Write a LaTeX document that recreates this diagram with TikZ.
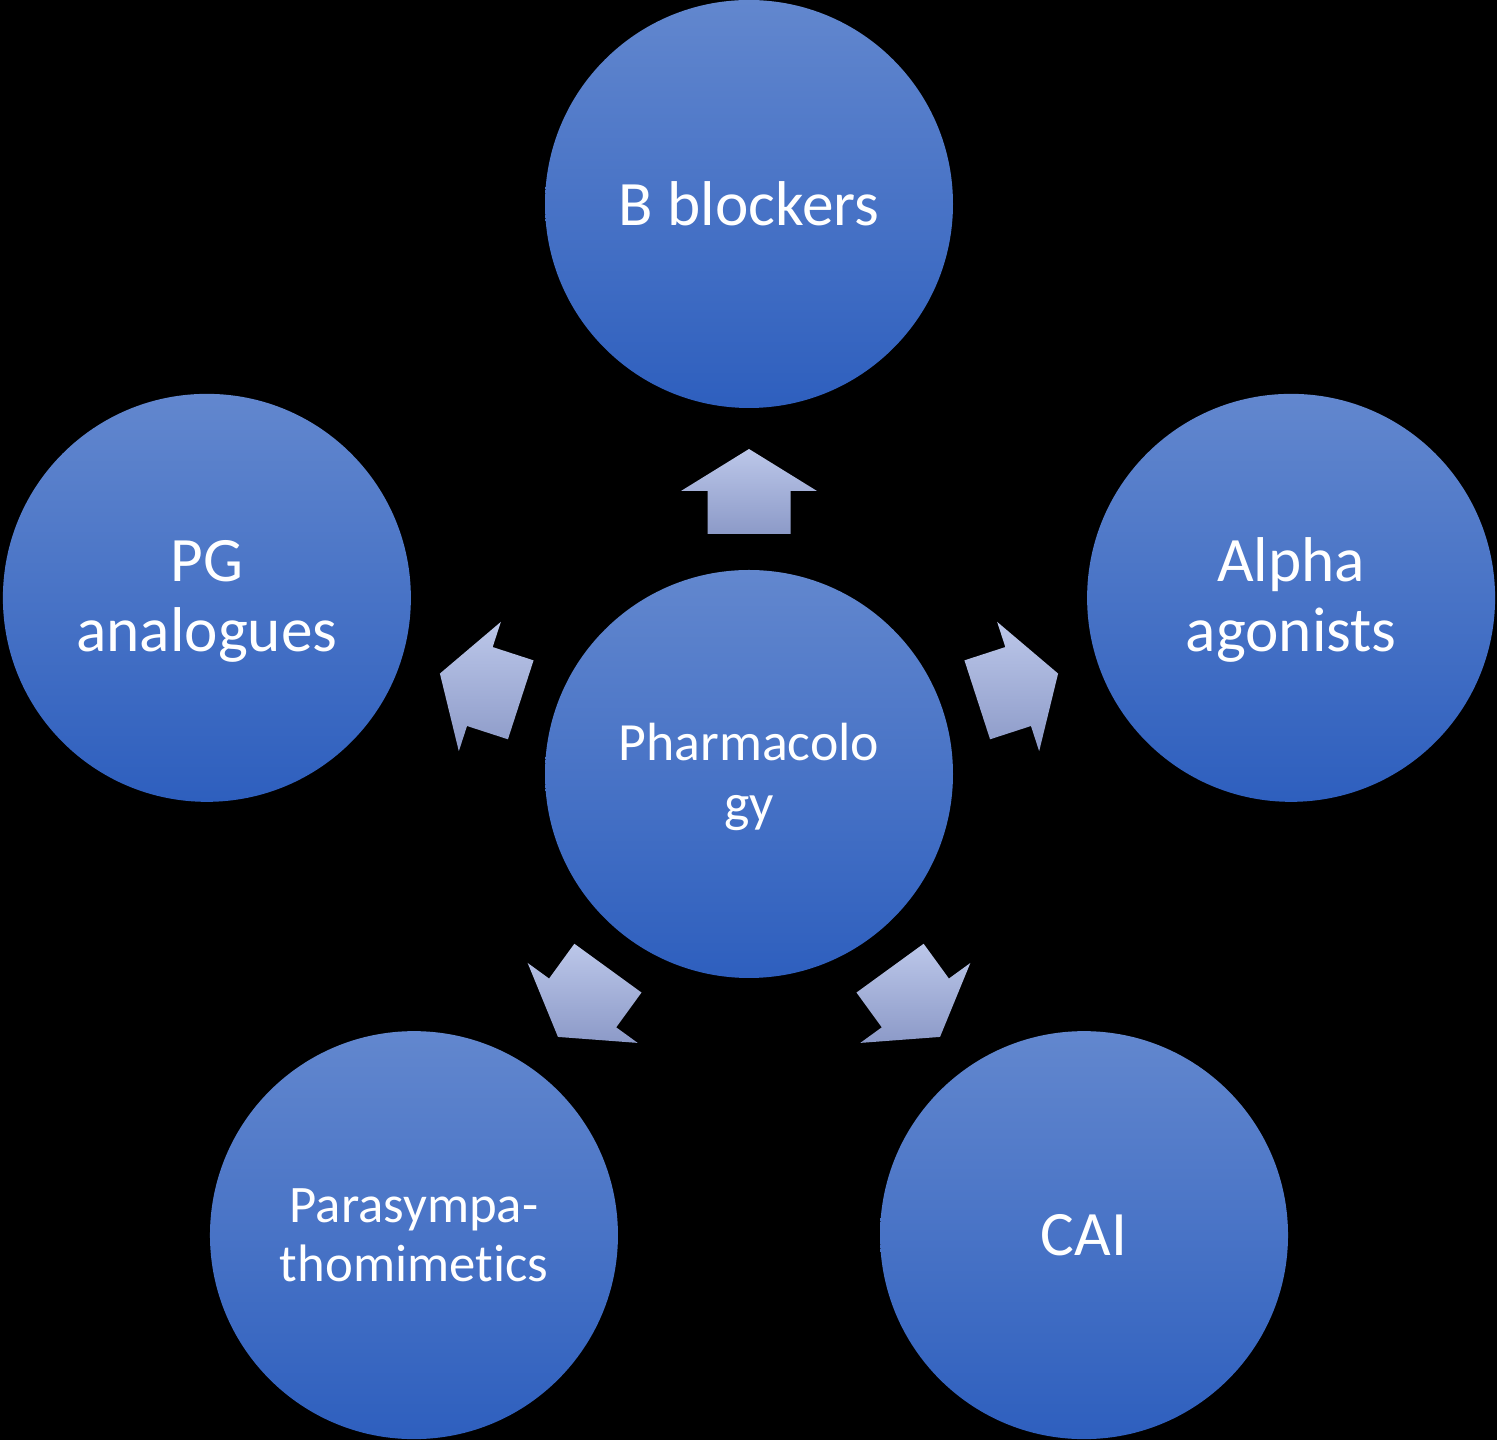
\documentclass[tikz,border=0pt]{standalone}
\usepackage{fontspec}
\setmainfont{Carlito}[Ligatures=NoCommon]
\usetikzlibrary{calc}
\definecolor{ctop}{RGB}{98,135,206}
\definecolor{cbot}{RGB}{46,95,190}
\definecolor{atop}{RGB}{188,199,233}
\definecolor{abot}{RGB}{140,154,200}
\tikzset{
  bub/.style={circle, minimum size=4.08cm, inner sep=0pt, top color=ctop, bottom color=cbot, text=white, align=center},
  bigtxt/.style={font=\fontsize{18}{19.9}\selectfont},
  blockarrow/.style={top color=atop, bottom color=abot, draw=none}
}
\newcommand\lowered[2]{\raisebox{-#1}[\height][\depth]{\begin{tabular}{@{}c@{}}#2\end{tabular}}}
\newcommand\blockarr[1]{%
  \path[blockarrow] ($(c)+(#1:2.40)+(#1+90:0.415)$) -- ($(c)+(#1:2.83)+(#1+90:0.415)$)
    -- ($(c)+(#1:2.83)+(#1+90:0.68)$) -- ($(c)+(#1:3.25)$)
    -- ($(c)+(#1:2.83)+(#1-90:0.68)$) -- ($(c)+(#1:2.83)+(#1-90:0.415)$)
    -- ($(c)+(#1:2.40)+(#1-90:0.415)$) -- cycle;}
\begin{document}
\begin{tikzpicture}
\fill[black] (0,0) rectangle (14.97,14.40);
\useasboundingbox (0,0) rectangle (14.97,14.40);
\coordinate (c) at (7.49,6.66);
\node[bub, font=\fontsize{15.3}{17.2}\selectfont] (ph) at (c) {\lowered{0.05cm}{Pharmacolo\\gy}};
\node[bub, bigtxt] (bb) at ($(c)+(90:5.70)$) {B blockers};
\node[bub, bigtxt] (al) at ($(c)+(18:5.70)$) {\lowered{0.045cm}{Alpha\\agonists}};
\node[bub, bigtxt] (cai) at ($(c)+(-54:5.70)$) {CAI};
\node[bub, font=\fontsize{15}{16.8}\selectfont] (ps) at ($(c)+(234:5.70)$) {Parasympa-\\thomimetics};
\node[bub, bigtxt] (pg) at ($(c)+(162:5.70)$) {\lowered{0.045cm}{PG\\analogues}};
\blockarr{90}
\blockarr{18}
\blockarr{-54}
\blockarr{234}
\blockarr{162}
\end{tikzpicture}
\end{document}
